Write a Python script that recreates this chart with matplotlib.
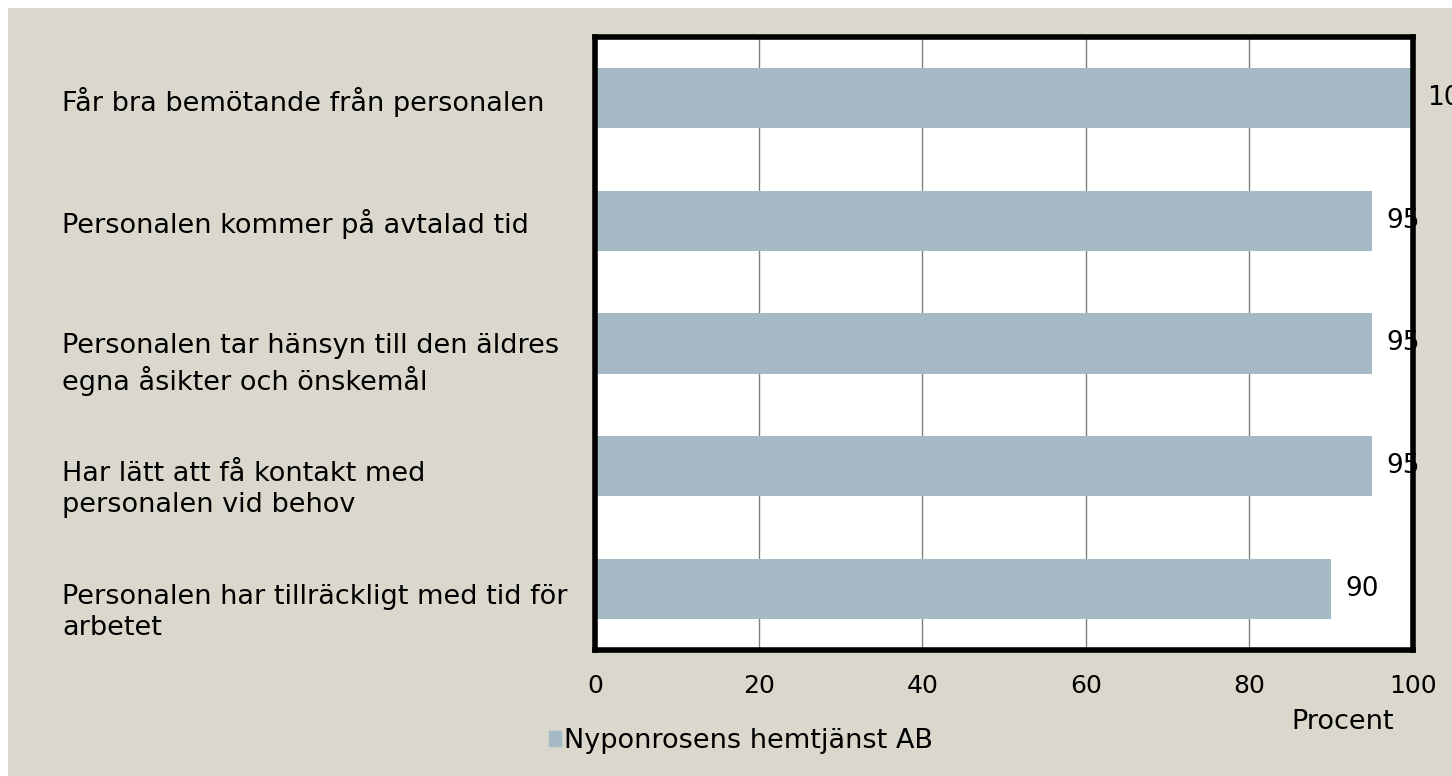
import matplotlib
matplotlib.use("Agg")
import matplotlib.pyplot as plt
import matplotlib.transforms as mtransforms
from matplotlib.patches import Patch, Rectangle

categories = [
    "Får bra bemötande från personalen",
    "Personalen kommer på avtalad tid",
    "Personalen tar hänsyn till den äldres\negna åsikter och önskemål",
    "Har lätt att få kontakt med\npersonalen vid behov",
    "Personalen har tillräckligt med tid för\narbetet",
]
values = [100, 95, 95, 95, 90]
series_name = "Nyponrosens hemtjänst AB"
xticks = [0, 20, 40, 60, 80, 100]

W, H = 1452, 776
bg = "#dad8cc"
bar_color = "#a6bac5"

plt.rcParams["font.family"] = ["DejaVu Sans"]

fig = plt.figure(figsize=(W / 100, H / 100), dpi=100, facecolor="white")
# beige panel with thin white strip on top and left
fig.add_artist(Rectangle((8 / W, 0), 1 - 8 / W, 1 - 8 / H, transform=fig.transFigure,
                         facecolor=bg, edgecolor="none", zorder=-10))

ax = fig.add_axes([595 / W, 1 - 650 / H, (1413 - 595) / W, (650 - 37) / H])
ax.set_facecolor("white")

ypos = list(range(len(categories)))
ax.barh(ypos, values, height=0.49, color=bar_color, zorder=2)
ax.set_xlim(0, 100)
ax.set_ylim(len(categories) - 0.5, -0.5)

ax.set_xticks(xticks)
ax.set_xticklabels([str(t) for t in xticks], fontsize=18)
ax.tick_params(axis="x", length=0, pad=17)
ax.set_yticks([])
ax.grid(axis="x", color="#808080", linewidth=1, zorder=0)
for s in ax.spines.values():
    s.set_linewidth(4)
    s.set_color("black")

# category labels, left aligned in the figure margin;
# first line's baseline sits a little below the bar centre
trans = mtransforms.blended_transform_factory(fig.transFigure, ax.transData)
line_step = 34 / 122.6
for i, lab in enumerate(categories):
    n = lab.count("\n")
    ax.text(62 / W, i + 0.1 + n * line_step, lab, transform=trans, ha="left",
            va="baseline", fontsize=19.5, linespacing=1.27, clip_on=False)

# value labels
for i, v in enumerate(values):
    ax.annotate(str(v), xy=(v, i), xytext=(10, 0), textcoords="offset points",
                ha="left", va="center", fontsize=19, annotation_clip=False)

fig.text(1343 / W, 1 - 722 / H, "Procent", ha="center", va="center", fontsize=19.5)

fig.legend(handles=[Patch(color=bar_color)], labels=[series_name],
           loc="center left", bbox_to_anchor=(549 / W, 1 - 741 / H),
           frameon=False, fontsize=19.5, handlelength=0.45, handleheight=0.47,
           handletextpad=0.1, borderpad=0, borderaxespad=0)

fig.savefig("out.png", dpi=100, facecolor="white")
